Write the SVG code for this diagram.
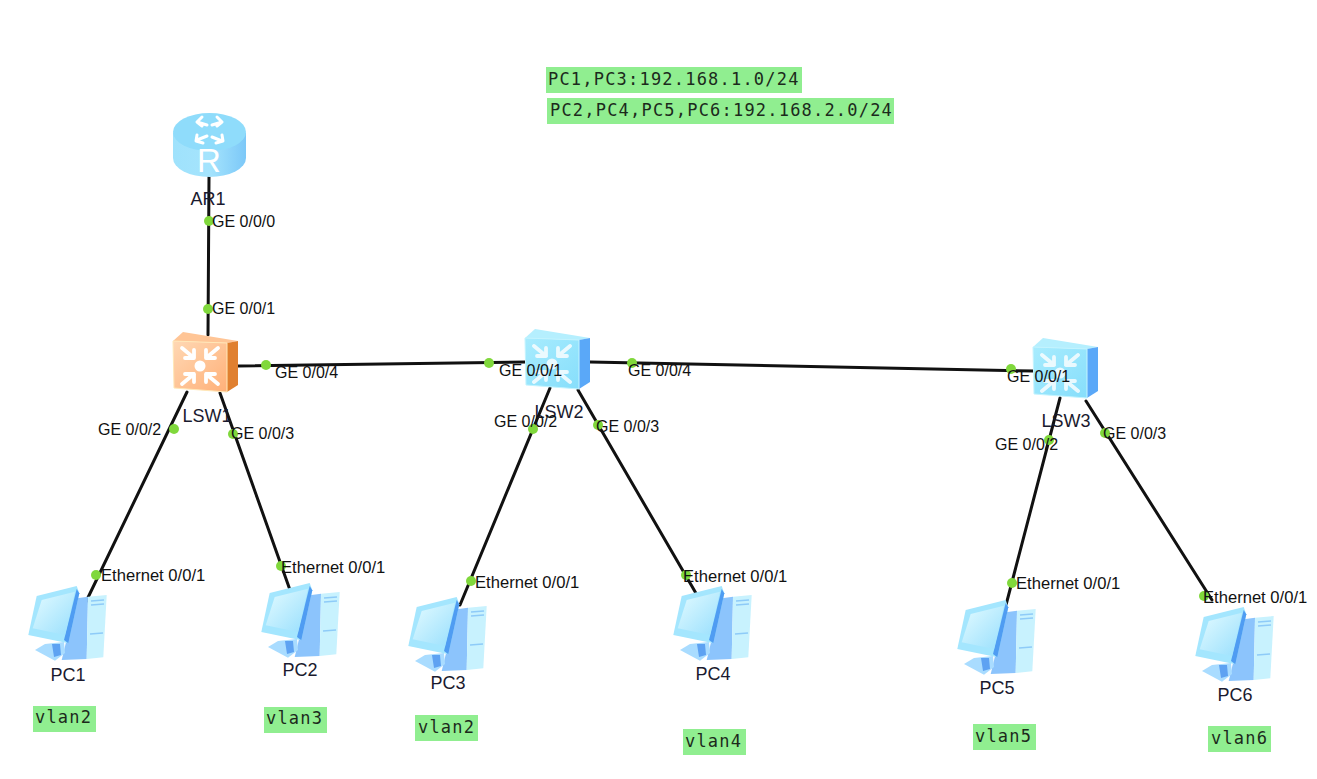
<svg xmlns="http://www.w3.org/2000/svg" width="1317" height="779" viewBox="0 0 1317 779">
<style>
text{font-family:"Liberation Sans",Arial,sans-serif;font-size:18px;fill:#1a1a2e}
.port{font-size:16px;fill:#111}
.eth{font-size:16.6px;fill:#111}
.tag{font-family:"DejaVu Sans Mono","Liberation Mono",monospace;font-size:17px;letter-spacing:1.2px;fill:#1c2a1c}
.bg{fill:#90ee90}
.link{stroke:#111;stroke-width:3;fill:none;stroke-linecap:round}
.dot{fill:#80d83c}
</style>
<defs>
<linearGradient id="rb" x1="0" x2="1" y1="0" y2="0"><stop offset="0" stop-color="#9fe2fc"/><stop offset="0.5" stop-color="#a5e4fd"/><stop offset="1" stop-color="#7cc8f8"/></linearGradient>
<linearGradient id="sf" x1="0" x2="1" y1="0" y2="1"><stop offset="0" stop-color="#ffd8b4"/><stop offset="1" stop-color="#ffb078"/></linearGradient>
<linearGradient id="bf" x1="0" x2="1" y1="0" y2="1"><stop offset="0" stop-color="#a8ecfe"/><stop offset="1" stop-color="#86defb"/></linearGradient>
<linearGradient id="scr" x1="0" x2="1" y1="0" y2="1"><stop offset="0" stop-color="#e4fbff"/><stop offset="1" stop-color="#98dffd"/></linearGradient>
<symbol id="arrows" overflow="visible" width="54" height="50">
<g fill="none" stroke="#fff" stroke-width="3.800" stroke-linecap="round" stroke-linejoin="round">
<path d="M9 8 L21 18 M21 10 V18 H12"/><path d="M45 8 L33 18 M33 10 V18 H42"/>
<path d="M9 44 L21 34 M21 42 V34 H12"/><path d="M45 44 L33 34 M33 42 V34 H42"/>
</g><circle cx="27" cy="26" r="5.500" fill="#fff"/>
</symbol>
<symbol id="pc" overflow="visible" width="80" height="76">
<path d="M33.700 74 L48.700 12.300 L60 10.700 L58.700 73Z" fill="#8cc4fc"/>
<path d="M60 10.700 L78.700 9 L75.300 71.300 L58.700 73Z" fill="#c8f2fe"/>
<path d="M63 15 L76 14 M63 19 L76 18 M62 48 L75 47" stroke="#8ecbf8" stroke-width="1.500"/>
<path d="M7 64 L17 58 L36 56 L37 67 L27 74.700Z" fill="#a9dcff"/>
<path d="M24 58 L32 58 L33 69 L26 71Z" fill="#5ea2f2"/>
<path d="M8.700 10 L48.700 0 L51.300 7.300 L40.300 57.300 L0.300 49Z" fill="#a4e6fe"/>
<path d="M48.700 3 L51.300 7.300 L40.300 57.300 L36 54Z" fill="#4f9cf2"/>
<path d="M13.700 14 L47 5.700 L37 49 L4.700 42.300Z" fill="url(#scr)"/>
</symbol>
<symbol id="sw" overflow="visible" width="66" height="60">
<path d="M0 9 L10 0 L65 9 L54 11Z" fill="#b5effe"/>
<path d="M54 11 L65 9 L65 53 L54 60Z" fill="#5aa8f8"/>
<path d="M0 9 L54 11 L54 60 L1 56Z" fill="url(#bf)" stroke="#c4f4ff" stroke-width="1"/>
<use href="#arrows" y="9" opacity="0.800"/>
</symbol>
</defs>
<g id="connectors">
<path class="link" d="M209 177 L208 335"/>
<path class="link" d="M238 366 L526 362"/>
<path class="link" d="M590 362 L1034 371"/>
<path class="link" d="M187 392 L82 610"/>
<path class="link" d="M220 393 L290 590"/>
<path class="link" d="M550 388 L460 605"/>
<path class="link" d="M578 390 L697 595"/>
<path class="link" d="M1060 398 L1006 605"/>
<path class="link" d="M1086 401 L1212 600"/>
</g>
<g id="AR1">
<path d="M173 133 V158 A36.500 19 0 0 0 246 158 V133Z" fill="url(#rb)"/>
<ellipse cx="209.500" cy="132" rx="36.500" ry="19" fill="#8fdcfb"/>
<g fill="none" stroke="#fff" stroke-width="3" stroke-linecap="round" stroke-linejoin="round"><path d="M197 122 L207 125 M202 117 L197 122 L202 126"/><path d="M222 122 L212 125 M217 117 L222 122 L217 126"/><path d="M197 140 L207 136 M197 135 L196 141 L203 143"/><path d="M222 141 L212 137 M222 135 L223 141 L216 143"/></g>
<text x="209" y="172" text-anchor="middle" style="font-size:33px;fill:#fff">R</text>
<text x="208" y="205" text-anchor="middle">AR1</text>
</g>
<g id="LSW1">
<path d="M173 341 L183 332 L238 341 L227 343Z" fill="#ffc596"/>
<path d="M227 343 L238 341 L238 385 L227 392Z" fill="#e08030"/>
<path d="M173 341 L227 343 L227 392 L174 388Z" fill="url(#sf)" stroke="#ffe8b8" stroke-width="1"/>
<use href="#arrows" x="173" y="340"/>
<text x="207" y="422" text-anchor="middle">LSW1</text>
</g>
<g id="LSW2"><use href="#sw" x="525" y="329"/><text x="559" y="418" text-anchor="middle">LSW2</text></g>
<g id="LSW3"><use href="#sw" x="1033" y="338"/><text x="1066" y="427" text-anchor="middle">LSW3</text></g>
<g id="PC1"><use href="#pc" x="28" y="586"/><text x="68" y="681" text-anchor="middle">PC1</text></g>
<g id="PC2"><use href="#pc" x="261" y="583"/><text x="300" y="676" text-anchor="middle">PC2</text></g>
<g id="PC3"><use href="#pc" x="408" y="597"/><text x="448" y="689" text-anchor="middle">PC3</text></g>
<g id="PC4"><use href="#pc" x="673" y="586"/><text x="713" y="680" text-anchor="middle">PC4</text></g>
<g id="PC5"><use href="#pc" x="957" y="600"/><text x="997" y="694" text-anchor="middle">PC5</text></g>
<g id="PC6"><use href="#pc" x="1195" y="607"/><text x="1235" y="701" text-anchor="middle">PC6</text></g>
<g id="ports">
<g class="dot">
<circle cx="209" cy="221" r="5"/><circle cx="208" cy="309" r="5"/><circle cx="266" cy="365" r="5"/><circle cx="489" cy="363" r="5"/><circle cx="632" cy="363" r="5"/><circle cx="1011" cy="369" r="5"/>
<circle cx="174" cy="429" r="5"/><circle cx="233" cy="434" r="5"/><circle cx="533" cy="429" r="5"/><circle cx="598" cy="425" r="5"/><circle cx="1049" cy="440" r="5"/><circle cx="1105" cy="433" r="5"/>
<circle cx="96" cy="575" r="5"/><circle cx="281" cy="566" r="5"/><circle cx="471" cy="581" r="5"/><circle cx="686" cy="575" r="5"/><circle cx="1012" cy="583" r="5"/><circle cx="1204" cy="596" r="5"/>
</g>
<text class="port" x="212" y="227">GE 0/0/0</text>
<text class="port" x="212" y="314">GE 0/0/1</text>
<text class="port" x="275" y="378">GE 0/0/4</text>
<text class="port" x="499" y="376">GE 0/0/1</text>
<text class="port" x="628" y="376">GE 0/0/4</text>
<text class="port" x="1007" y="382">GE 0/0/1</text>
<text class="port" x="98" y="435">GE 0/0/2</text>
<text class="port" x="231" y="439">GE 0/0/3</text>
<text class="port" x="494" y="427">GE 0/0/2</text>
<text class="port" x="596" y="432">GE 0/0/3</text>
<text class="port" x="995" y="450">GE 0/0/2</text>
<text class="port" x="1103" y="439">GE 0/0/3</text>
<text class="eth" x="101" y="581">Ethernet 0/0/1</text>
<text class="eth" x="281" y="573">Ethernet 0/0/1</text>
<text class="eth" x="475" y="588">Ethernet 0/0/1</text>
<text class="eth" x="683" y="582">Ethernet 0/0/1</text>
<text class="eth" x="1016" y="589">Ethernet 0/0/1</text>
<text class="eth" x="1203" y="603">Ethernet 0/0/1</text>
</g>
<g id="notes">
<rect class="bg" x="546" y="67" width="256" height="26"/><text class="tag" x="548" y="85">PC1,PC3:192.168.1.0/24</text>
<rect class="bg" x="547" y="98" width="347" height="26"/><text class="tag" x="550" y="116">PC2,PC4,PC5,PC6:192.168.2.0/24</text>
<rect class="bg" x="33" y="706" width="63" height="26"/><text class="tag" x="35" y="723">vlan2</text>
<rect class="bg" x="264" y="707" width="63" height="26"/><text class="tag" x="266" y="724">vlan3</text>
<rect class="bg" x="415" y="715" width="63" height="26"/><text class="tag" x="418" y="733">vlan2</text>
<rect class="bg" x="683" y="729" width="63" height="26"/><text class="tag" x="685" y="747">vlan4</text>
<rect class="bg" x="973" y="724" width="63" height="26"/><text class="tag" x="975" y="742">vlan5</text>
<rect class="bg" x="1208" y="726" width="63" height="26"/><text class="tag" x="1211" y="744">vlan6</text>
</g>
</svg>
